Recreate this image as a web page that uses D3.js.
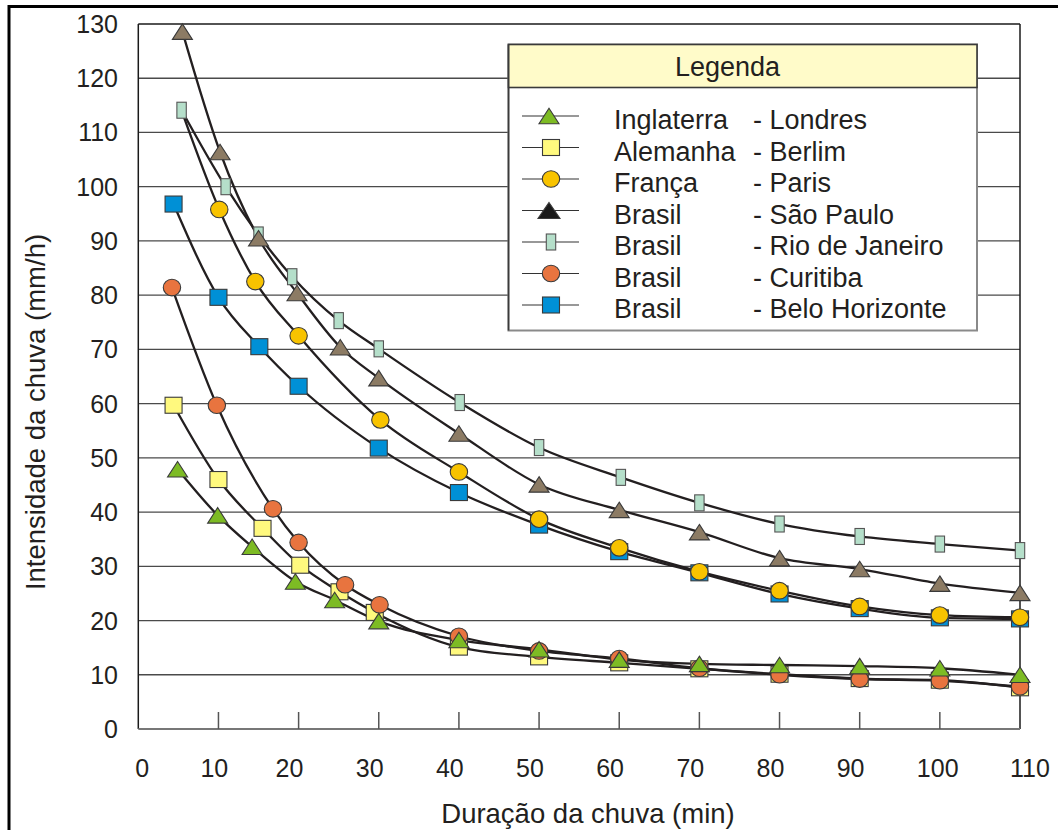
<!DOCTYPE html>
<html><head><meta charset="utf-8">
<script src="https://cdn.jsdelivr.net/npm/d3@7"></script>
<style>
body{margin:0;background:#fff}
svg{display:block;font-family:"Liberation Sans",Arial,Helvetica,sans-serif}
</style>
</head><body>
<svg id="chart" width="1058" height="830"></svg>
<script>
// Intensity–duration curves (mm/h vs min)
const durLondres = [4.9, 9.9, 14.2, 19.6, 24.5, 30, 40, 50, 60, 70, 80, 90, 100, 110];
const valLondres = [47.9, 39.4, 33.6, 27.2, 23.8, 19.9, 16.4, 14.7, 12.8, 12.0, 11.8, 11.6, 11.2, 10.0];

const durBerlim = [4.4, 10, 15.5, 20.2, 25.1, 29.5, 40, 50, 60, 70, 80, 90, 100, 110];
const valBerlim = [59.7, 46.0, 37.0, 30.2, 25.3, 21.5, 15.1, 13.3, 12.2, 11.1, 10.1, 9.3, 9.0, 7.6];

const durParis = [10.1, 14.6, 20, 30.2, 40, 50, 60, 70, 80, 90, 100, 110];
const valParis = [95.8, 82.5, 72.5, 57.0, 47.4, 38.7, 33.4, 29.0, 25.5, 22.6, 21.0, 20.6];
const parisLineStart = [5.6, 113.2]; // curve begins before the first marker

const durSaoPaulo = [5.5, 10.2, 15, 19.8, 25.2, 30, 40, 50, 60, 70, 80, 90, 100, 110];
const valSaoPaulo = [128.6, 106.4, 90.5, 80.4, 70.4, 64.7, 54.5, 45.1, 40.4, 36.3, 31.5, 29.5, 26.8, 25.1];

const durRio = [5.4, 10.9, 15, 19.2, 25, 30, 40.1, 50, 60.2, 70, 80, 90, 100, 110];
const valRio = [114.1, 100.0, 91.1, 83.4, 75.3, 70.1, 60.2, 51.9, 46.4, 41.7, 37.8, 35.5, 34.1, 32.9];

const durCuritiba = [4.2, 9.8, 16.8, 20, 25.8, 30.1, 40, 50, 60, 70, 80, 90, 100, 110];
const valCuritiba = [81.4, 59.7, 40.6, 34.4, 26.6, 22.9, 17.1, 14.4, 13.0, 11.2, 10.0, 9.2, 8.9, 7.8];

const durBH = [4.4, 10, 15.1, 20, 30, 40, 50, 60, 70, 80, 90, 100, 110];
const valBH = [96.8, 79.6, 70.5, 63.2, 51.8, 43.6, 37.6, 32.7, 28.8, 24.9, 22.2, 20.5, 20.3];

const countries = ["Inglaterra", "Alemanha", "França", "Brasil", "Brasil", "Brasil", "Brasil"];
const cities = ["- Londres", "- Berlim", "- Paris", "- São Paulo", "- Rio de Janeiro", "- Curitiba", "- Belo Horizonte"];

const xTickLabels = [0, 10, 20, 30, 40, 50, 60, 70, 80, 90, 100, 110];
const yTickLabels = [0, 10, 20, 30, 40, 50, 60, 70, 80, 90, 100, 110, 120, 130];

const zip = (ts, vs) => ts.map((t, i) => ({t, v: vs[i]}));

// series in legend order, with marker styles
const series = [
  {key: "londres", pts: zip(durLondres, valLondres), shape: "tri", fill: "#7dbb24", legendFill: "#7dbb24"},
  {key: "berlim", pts: zip(durBerlim, valBerlim), shape: "sq", fill: "#fff97e", legendFill: "#fff97e"},
  {key: "paris", pts: zip(durParis, valParis), shape: "circ", fill: "#f8c300", legendFill: "#f8c300",
   lineExtra: {t: parisLineStart[0], v: parisLineStart[1]}},
  {key: "saopaulo", pts: zip(durSaoPaulo, valSaoPaulo), shape: "tri", fill: "#8c7b64", legendFill: "#1a1a1a", big: true},
  {key: "rio", pts: zip(durRio, valRio), shape: "bar", fill: "#b5dfca", legendFill: "#b5dfca"},
  {key: "curitiba", pts: zip(durCuritiba, valCuritiba), shape: "circ", fill: "#e8743f", legendFill: "#e8743f"},
  {key: "bh", pts: zip(durBH, valBH), shape: "sq", fill: "#0090d6", legendFill: "#0090d6"}
];
// painting order of the marker layers (bottom to top)
const drawOrder = ["berlim", "bh", "curitiba", "rio", "saopaulo", "paris", "londres"];

const svg = d3.select("#chart");
const x = d3.scaleLinear().domain([0, 110]).range([138.3, 1020]);
const y = d3.scaleLinear().domain([0, 130]).range([729, 24]);

// outer frame
svg.append("rect").attr("x", 9).attr("y", 6.5).attr("width", 1070).attr("height", 840)
  .attr("fill", "none").attr("stroke", "#000").attr("stroke-width", 3);

// horizontal grid
svg.append("g").selectAll("line").data(yTickLabels.filter(v => v > 0 && v < 130)).join("line")
  .attr("x1", x(0)).attr("x2", x(110)).attr("y1", d => y(d)).attr("y2", d => y(d))
  .attr("stroke", "#4a4a4a").attr("stroke-width", 1.3);

// plot frame: top, left, right
svg.append("line").attr("x1", x(0)).attr("x2", x(110)).attr("y1", y(130)).attr("y2", y(130))
  .attr("stroke", "#1a1a1a").attr("stroke-width", 1.5);
svg.append("line").attr("x1", x(0)).attr("x2", x(0)).attr("y1", y(130)).attr("y2", y(0))
  .attr("stroke", "#1a1a1a").attr("stroke-width", 1.5);
svg.append("line").attr("x1", x(110)).attr("x2", x(110)).attr("y1", y(130)).attr("y2", y(0))
  .attr("stroke", "#1a1a1a").attr("stroke-width", 1.5);
// bottom axis with inward ticks
svg.append("line").attr("x1", x(0)).attr("x2", x(110)).attr("y1", y(0)).attr("y2", y(0))
  .attr("stroke", "#777").attr("stroke-width", 2);
svg.append("g").selectAll("line").data(xTickLabels.filter(t => t > 0 && t < 110)).join("line")
  .attr("x1", d => x(d)).attr("x2", d => x(d)).attr("y1", y(0)).attr("y2", y(0) - 17)
  .attr("stroke", "#555").attr("stroke-width", 1.5);

// tick labels
svg.append("g").selectAll("text").data(yTickLabels).join("text")
  .attr("x", 118).attr("y", d => y(d)).attr("dy", "0.36em")
  .attr("text-anchor", "end").attr("font-size", 25).attr("fill", "#231f20").text(d => d);

const xLabelShift = t => t === 0 ? -3 : t === 10 ? -18 : t === 110 ? -10 : -23;
svg.append("g").selectAll("text").data(xTickLabels).join("text")
  .attr("x", d => x(d) + xLabelShift(d)).attr("y", 777)
  .attr("text-anchor", "start").attr("font-size", 25).attr("fill", "#231f20").text(d => d);

// axis titles
svg.append("text").attr("x", 588).attr("y", 823).attr("text-anchor", "middle")
  .attr("font-size", 27.5).attr("fill", "#231f20").text("Duração da chuva (min)");
svg.append("text").attr("transform", "translate(45,412) rotate(-90)").attr("text-anchor", "middle")
  .attr("font-size", 27.5).attr("fill", "#231f20").text("Intensidade da chuva (mm/h)");

// curves
const line = d3.line().x(d => x(d.t)).y(d => y(d.v)).curve(d3.curveMonotoneX);
svg.append("g").selectAll("path").data(series).join("path")
  .attr("d", s => line(s.lineExtra ? [s.lineExtra, ...s.pts] : s.pts))
  .attr("fill", "none").attr("stroke", "#231f20").attr("stroke-width", 2.3);

// marker drawing helper
function marker(g, shape, fill, cx, cy, big) {
  const stroke = "#3a3a3a", sw = 1.1;
  if (shape === "tri") {
    const w = big ? 22 : 20, h = big ? 16 : 15.5;
    g.append("path").attr("d", `M${cx},${cy - h / 2}L${cx + w / 2},${cy + h / 2}L${cx - w / 2},${cy + h / 2}Z`)
      .attr("fill", fill).attr("stroke", stroke).attr("stroke-width", sw);
  } else if (shape === "sq") {
    g.append("rect").attr("x", cx - 8.5).attr("y", cy - 8).attr("width", 17).attr("height", 16)
      .attr("fill", fill).attr("stroke", stroke).attr("stroke-width", sw);
  } else if (shape === "circ") {
    g.append("ellipse").attr("cx", cx).attr("cy", cy).attr("rx", 8.7).attr("ry", 8.3)
      .attr("fill", fill).attr("stroke", stroke).attr("stroke-width", sw);
  } else if (shape === "bar") {
    g.append("rect").attr("x", cx - 4.7).attr("y", cy - 8).attr("width", 9.4).attr("height", 16)
      .attr("fill", fill).attr("stroke", "#555").attr("stroke-width", sw);
  }
}

const mk = svg.append("g");
drawOrder.forEach(k => {
  const s = series.find(d => d.key === k);
  s.pts.forEach(p => marker(mk, s.shape, s.fill, x(p.t), y(p.v), false));
});

// legend
const lg = svg.append("g");
const L = {x0: 508.5, x1: 977, y0: 44.5, yh: 87.5, y1: 330.5};
lg.append("rect").attr("x", L.x0).attr("y", L.y0).attr("width", L.x1 - L.x0).attr("height", L.y1 - L.y0)
  .attr("fill", "#fff").attr("stroke", "#8a8a8a").attr("stroke-width", 2);
lg.append("rect").attr("x", L.x0).attr("y", L.y0).attr("width", L.x1 - L.x0).attr("height", L.yh - L.y0)
  .attr("fill", "#fffbc9").attr("stroke", "#3a3a3a").attr("stroke-width", 1.6);
lg.append("line").attr("x1", L.x0).attr("x2", L.x0).attr("y1", L.y0).attr("y2", L.y1)
  .attr("stroke", "#3a3a3a").attr("stroke-width", 1.6);
lg.append("text").attr("x", 675).attr("y", 76).attr("font-size", 27).attr("fill", "#231f20").text("Legenda");

const rowY = i => 116 + i * 31.5;
series.forEach((s, i) => {
  const cy = rowY(i);
  lg.append("line").attr("x1", 522).attr("x2", 579).attr("y1", cy).attr("y2", cy)
    .attr("stroke", "#333").attr("stroke-width", 1.2);
  const mx = s.shape === "tri" ? 549 : 551;
  marker(lg, s.shape, s.legendFill, mx, cy, s.big);
  lg.append("text").attr("x", 614).attr("y", cy + 13).attr("font-size", 27).attr("fill", "#231f20").text(countries[i]);
  lg.append("text").attr("x", 753).attr("y", cy + 13).attr("font-size", 27).attr("fill", "#231f20").text(cities[i]);
});
</script>
</body></html>
